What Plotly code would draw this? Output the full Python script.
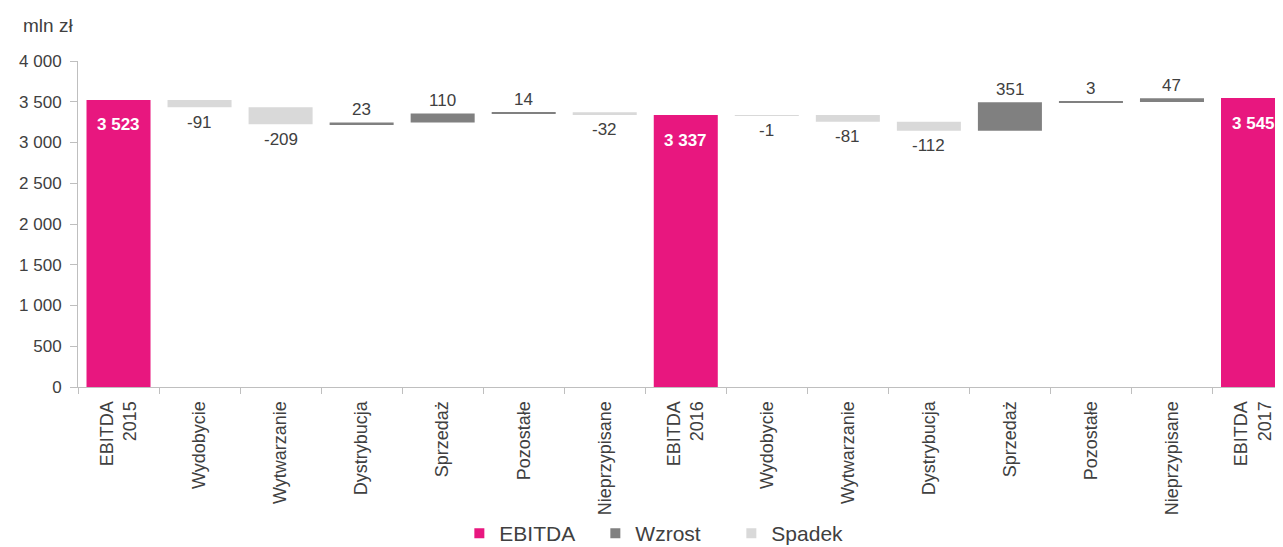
import plotly.graph_objects as go

labels = ["EBITDA<br>2015", "Wydobycie", "Wytwarzanie", "Dystrybucja", "Sprzedaż", "Pozostałe",
          "Nieprzypisane", "EBITDA<br>2016", "Wydobycie", "Wytwarzanie", "Dystrybucja", "Sprzedaż",
          "Pozostałe", "Nieprzypisane", "EBITDA<br>2017"]
kinds = ["total", "delta", "delta", "delta", "delta", "delta", "delta", "total",
         "delta", "delta", "delta", "delta", "delta", "delta", "total"]
values = [3523, -91, -209, 23, 110, 14, -32, 3337, -1, -81, -112, 351, 3, 47, 3545]
legend_names = ["EBITDA", "Wzrost", "Spadek"]

MAGENTA = "#E8177F"
DARK = "#808080"
LIGHT = "#D9D9D9"
TXT = "#404040"
FONT = "Liberation Sans, Arial, sans-serif"
BW = 0.79

x = list(range(len(values)))

# compute bases of waterfall
bases = []
running = 0
for k, v in zip(kinds, values):
    if k == "total":
        bases.append(0)
        running = v
    else:
        bases.append(running)
        running += v

def fmt(v):
    return f"{v:,}".replace(",", " ")

tot_x, tot_y = [], []
up_x, up_y, up_b = [], [], []
dn_x, dn_y, dn_b = [], [], []
for i, (k, v, b) in enumerate(zip(kinds, values, bases)):
    if k == "total":
        tot_x.append(i); tot_y.append(v)
    elif v >= 0:
        up_x.append(i); up_y.append(v); up_b.append(b)
    else:
        dn_x.append(i); dn_y.append(v); dn_b.append(b)

fig = go.Figure()
fig.add_trace(go.Bar(name="EBITDA", x=tot_x, y=tot_y, width=BW, marker_color=MAGENTA,
                     marker_line_width=0, hoverinfo="skip", showlegend=False))
fig.add_trace(go.Bar(name="Wzrost", x=up_x, y=up_y, base=up_b, width=BW, marker_color=DARK,
                     marker_line_width=0, showlegend=False))
fig.add_trace(go.Bar(name="Spadek", x=dn_x, y=dn_y, base=dn_b, width=BW, marker_color=LIGHT,
                     marker_line_width=0, showlegend=False))

# legend-only entries with small square symbols
for nm, col in zip(legend_names, [MAGENTA, DARK, LIGHT]):
    fig.add_trace(go.Scatter(name=nm, x=[None], y=[None], mode="markers",
                             marker=dict(symbol="square", size=10, color=col), showlegend=True))

# value labels for changes
for xi, v, b in zip(up_x, up_y, up_b):
    fig.add_annotation(x=xi, y=b + v, text=fmt(v), showarrow=False, yanchor="middle",
                       yshift=13, font=dict(family=FONT, size=17, color=TXT))
for xi, v, b in zip(dn_x, dn_y, dn_b):
    fig.add_annotation(x=xi, y=b + v, text=fmt(v), showarrow=False, yanchor="middle",
                       yshift=-15, font=dict(family=FONT, size=17, color=TXT))

# totals
for xi, yi in zip(tot_x, tot_y):
    fig.add_annotation(x=xi, y=yi, text=f"<b>{fmt(yi)}</b>", showarrow=False,
                       yshift=-25, font=dict(family=FONT, size=17, color="white"))

fig.add_annotation(xref="paper", yref="paper", x=-0.047, y=1.0, yshift=36, xanchor="left",
                   yanchor="middle", text="mln zł", showarrow=False,
                   font=dict(family=FONT, size=19, color=TXT))

fig.update_layout(
    width=1275, height=539,
    margin=dict(l=70, r=0, t=53, b=160),
    paper_bgcolor="white", plot_bgcolor="white",
    barmode="overlay",
    separators=". ",
    font=dict(family=FONT, size=15, color=TXT),
    showlegend=True,
    legend=dict(orientation="h", xref="container", yref="container", x=0.514, xanchor="center",
                y=0.025, yanchor="middle", font=dict(family=FONT, size=21, color=TXT),
                bgcolor="rgba(0,0,0,0)",
                itemwidth=30, traceorder="normal", entrywidth=91, tracegroupgap=0),
    xaxis=dict(range=[-0.5, 14.37], tickmode="array", tickvals=x, ticktext=labels,
               tickangle=-90, ticks="", showline=True, linecolor="#BFBFBF", linewidth=1,
               showgrid=False, zeroline=False, ticklabelstandoff=6, automargin=False,
               tickfont=dict(family=FONT, size=18, color=TXT),
               minor=dict(tickmode="array", tickvals=[i - 0.5 for i in range(len(values) + 1)],
                          ticks="outside", ticklen=6, tickcolor="#BFBFBF", showgrid=False)),
    yaxis=dict(range=[0, 4000], tickvals=[0, 500, 1000, 1500, 2000, 2500, 3000, 3500, 4000],
               tickformat=",d", showline=True, linecolor="#BFBFBF", linewidth=1,
               ticks="outside", ticklen=7, tickcolor="#BFBFBF", showgrid=False, zeroline=False,
               ticklabelstandoff=5, automargin=False,
               tickfont=dict(family=FONT, size=17, color=TXT)),
)

fig.write_html("out.html")
